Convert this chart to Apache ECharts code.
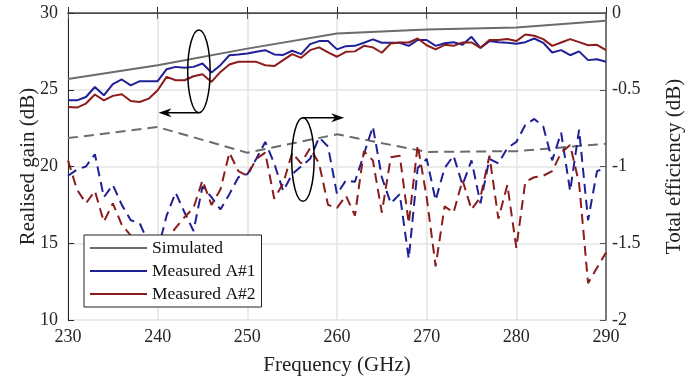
<!DOCTYPE html>
<html><head><meta charset="utf-8">
<script src="https://cdn.jsdelivr.net/npm/echarts@6/dist/echarts.min.js"></script>
<style>html,body{margin:0;padding:0;background:#fff}#c{width:693px;height:382px}</style>
</head><body><div id="c"></div>
<script>
var freq = [230,231,232,233,234,235,236,237,238,239,240,241,242,243,244,245,246,247,248,249,250,251,252,253,254,255,256,257,258,259,260,261,262,263,264,265,266,267,268,269,270,271,272,273,274,275,276,277,278,279,280,281,282,283,284,285,286,287,288,289,290];
var simFreq = [230,240,250,260,270,280,290];
var simGain = [25.7,26.6,27.68,28.67,28.93,29.06,29.5];
var simEff = [-0.815,-0.743,-0.91,-0.79,-0.905,-0.9,-0.852];
var gainA1 = [24.31,24.31,24.53,25.18,24.64,25.36,25.67,25.29,25.56,25.56,25.56,26.34,26.49,26.43,26.49,26.71,26.12,26.6,27.25,27.3,27.36,27.47,27.58,27.3,27.27,27.54,27.32,27.97,28.17,28.17,27.63,27.84,27.86,28.06,28.28,28.06,28.06,28.06,27.86,28.24,28.24,27.86,28.03,28.1,27.93,28.45,27.73,28.17,28.1,28.06,28.0,28.1,28.34,28.06,27.43,27.58,27.25,27.5,26.93,26.99,26.82];
var gainA2 = [23.88,23.84,24.1,24.69,24.31,24.6,24.71,24.27,24.2,24.42,24.97,25.84,25.62,25.62,25.88,26.01,25.51,26.16,26.64,26.82,26.82,26.82,26.6,26.54,26.93,27.32,27.08,27.58,27.76,27.43,27.15,27.47,27.5,27.86,27.76,27.41,28.02,28.08,28.08,28.34,27.9,27.63,27.93,27.86,28.08,28.08,27.73,28.24,28.24,28.3,28.17,28.6,28.52,28.3,27.86,28.08,28.3,28.1,27.9,27.93,27.58];
var effA1 = [-1.06,-1.02,-1.0,-0.92,-1.2,-1.12,-1.25,-1.35,-1.37,-1.5,-1.55,-1.32,-1.17,-1.3,-1.42,-1.13,-1.2,-1.28,-1.18,-1.07,-1.05,-0.95,-0.84,-0.98,-1.16,-1.05,-1.0,-0.95,-0.81,-0.87,-1.18,-1.09,-1.1,-0.92,-0.74,-1.07,-1.24,-1.18,-1.6,-1.01,-0.95,-1.22,-1.01,-0.93,-1.12,-0.96,-1.24,-0.95,-0.98,-0.88,-0.84,-0.73,-0.69,-0.74,-0.96,-0.78,-1.16,-0.76,-1.35,-1.03,-1.01];
var effA2 = [-0.96,-1.15,-1.24,-1.16,-1.36,-1.24,-1.38,-1.45,-1.5,-1.55,-1.52,-1.48,-1.4,-1.33,-1.27,-1.09,-1.25,-1.15,-0.91,-1.03,-1.06,-0.95,-0.91,-1.21,-1.11,-0.91,-0.98,-0.88,-0.98,-1.25,-1.27,-1.19,-1.32,-0.9,-0.96,-1.3,-0.94,-0.93,-1.37,-0.86,-1.2,-1.65,-1.26,-1.3,-1.09,-1.28,-1.2,-0.93,-1.34,-1.12,-1.53,-1.1,-1.07,-1.06,-1.03,-0.91,-0.86,-1.11,-1.76,-1.66,-1.56];
var legendNames = ['Simulated','Measured A#1','Measured A#2'];

var cGray = '#6b6b6b', cBlue = '#1f1f96', cRed = '#8c1c1c';
function pairs(xs, ys){ return xs.map(function(x,i){ return [x, ys[i]]; }); }
var font = 'Liberation Serif';
var chart = echarts.init(document.getElementById('c'));
var solid = function(name, xs, ys, col, z){ return {name:name,type:'line',xAxisIndex:0,yAxisIndex:0,data:pairs(xs,ys),symbol:'none',lineStyle:{color:col,width:2},itemStyle:{color:col},z:z,animation:false}; };
var dashed = function(name, xs, ys, col, z){ return {name:name,type:'line',xAxisIndex:0,yAxisIndex:1,data:pairs(xs,ys),symbol:'none',lineStyle:{color:col,width:2,type:[10,6]},itemStyle:{color:col},z:z,animation:false}; };
chart.setOption({
  animation:false,
  grid:{left:68,right:85,top:13,bottom:62,containLabel:false},
  legend:{data:legendNames,orient:'vertical',left:84,top:235,icon:'rect',itemWidth:57,itemHeight:2,itemGap:3,
    padding:[3,6,3,6],backgroundColor:'#fff',borderColor:'#222',borderWidth:1,
    textStyle:{fontFamily:font,fontSize:17.5,color:'#111',lineHeight:20},z:10},
  xAxis:[{type:'value',min:230,max:290,interval:10,position:'bottom',
    name:'Frequency (GHz)',nameLocation:'middle',nameGap:35,nameMoveOverlap:false,nameTextStyle:{fontFamily:font,fontSize:21,color:'#222'},
    axisLine:{lineStyle:{color:'#262626',width:1}},axisTick:{inside:true,length:6,lineStyle:{color:'#262626'}},
    axisLabel:{fontFamily:font,fontSize:18,color:'#262626',margin:8},
    splitLine:{show:true,lineStyle:{color:'#e3e3e3',width:1.5}}},
   {type:'value',min:230,max:290,interval:10,position:'top',
    axisLine:{show:true,lineStyle:{color:'#555',width:1.5}},axisTick:{show:true,inside:true,length:6,lineStyle:{color:'#555'}},
    axisLabel:{show:false},splitLine:{show:false}}],
  yAxis:[{type:'value',min:10,max:30,interval:5,position:'left',
    name:'Realised gain (dB)',nameLocation:'middle',nameGap:29,nameMoveOverlap:false,nameRotate:90,nameTextStyle:{fontFamily:font,fontSize:21,color:'#222'},
    axisLine:{show:true,lineStyle:{color:'#262626',width:1}},axisTick:{show:true,inside:true,length:6,lineStyle:{color:'#262626'}},
    axisLabel:{fontFamily:font,fontSize:18,color:'#262626',margin:10},
    splitLine:{show:true,lineStyle:{color:'#e3e3e3',width:1.5}}},
   {type:'value',min:-2,max:0,interval:0.5,position:'right',
    name:'Total efficiency (dB)',nameLocation:'middle',nameGap:58,nameMoveOverlap:false,nameRotate:90,nameTextStyle:{fontFamily:font,fontSize:21,color:'#222'},
    axisLine:{show:true,lineStyle:{color:'#555',width:1.5}},axisTick:{show:true,inside:true,length:6,lineStyle:{color:'#555'}},
    axisLabel:{fontFamily:font,fontSize:18,color:'#262626',margin:6},
    splitLine:{show:false}}],
  series:[
    solid(legendNames[0], simFreq, simGain, cGray, 3),
    solid(legendNames[1], freq, gainA1, cBlue, 3),
    solid(legendNames[2], freq, gainA2, cRed, 3),
    dashed('Simulated eff', simFreq, simEff, cGray, 2),
    dashed('Measured A#1 eff', freq, effA1, cBlue, 2),
    dashed('Measured A#2 eff', freq, effA2, cRed, 2)
  ]
});
function px(x,y){ return chart.convertToPixel({xAxisIndex:0,yAxisIndex:0},[x,y]); }
function ellipse(cx,cy,hx,hy){
  var c = px(cx,cy), e = px(cx+hx,cy+hy);
  return {type:'ellipse',shape:{cx:c[0],cy:c[1],rx:Math.abs(e[0]-c[0]),ry:Math.abs(c[1]-e[1])},style:{fill:null,stroke:'#000',lineWidth:1.5},z:20};
}
function arrow(x1,y1,x2,y2){
  var a = px(x1,y1), b = px(x2,y2);
  var dir = b[0] > a[0] ? 1 : -1;
  return [{type:'line',shape:{x1:a[0],y1:a[1],x2:b[0]-dir*8,y2:b[1]},style:{stroke:'#000',lineWidth:1.5},z:20},
    {type:'polygon',shape:{points:[[b[0],b[1]],[b[0]-dir*13,b[1]-4.5],[b[0]-dir*9,b[1]],[b[0]-dir*13,b[1]+4.5]]},style:{fill:'#000'},z:20}];
}
var g = [ellipse(244.6,26.2,1.25,2.7), ellipse(256.2,20.45,1.25,2.72)]
  .concat(arrow(244.6,23.5,240.1,23.5)).concat(arrow(256.2,23.18,260.8,23.18));
chart.setOption({graphic:g});
</script></body></html>
